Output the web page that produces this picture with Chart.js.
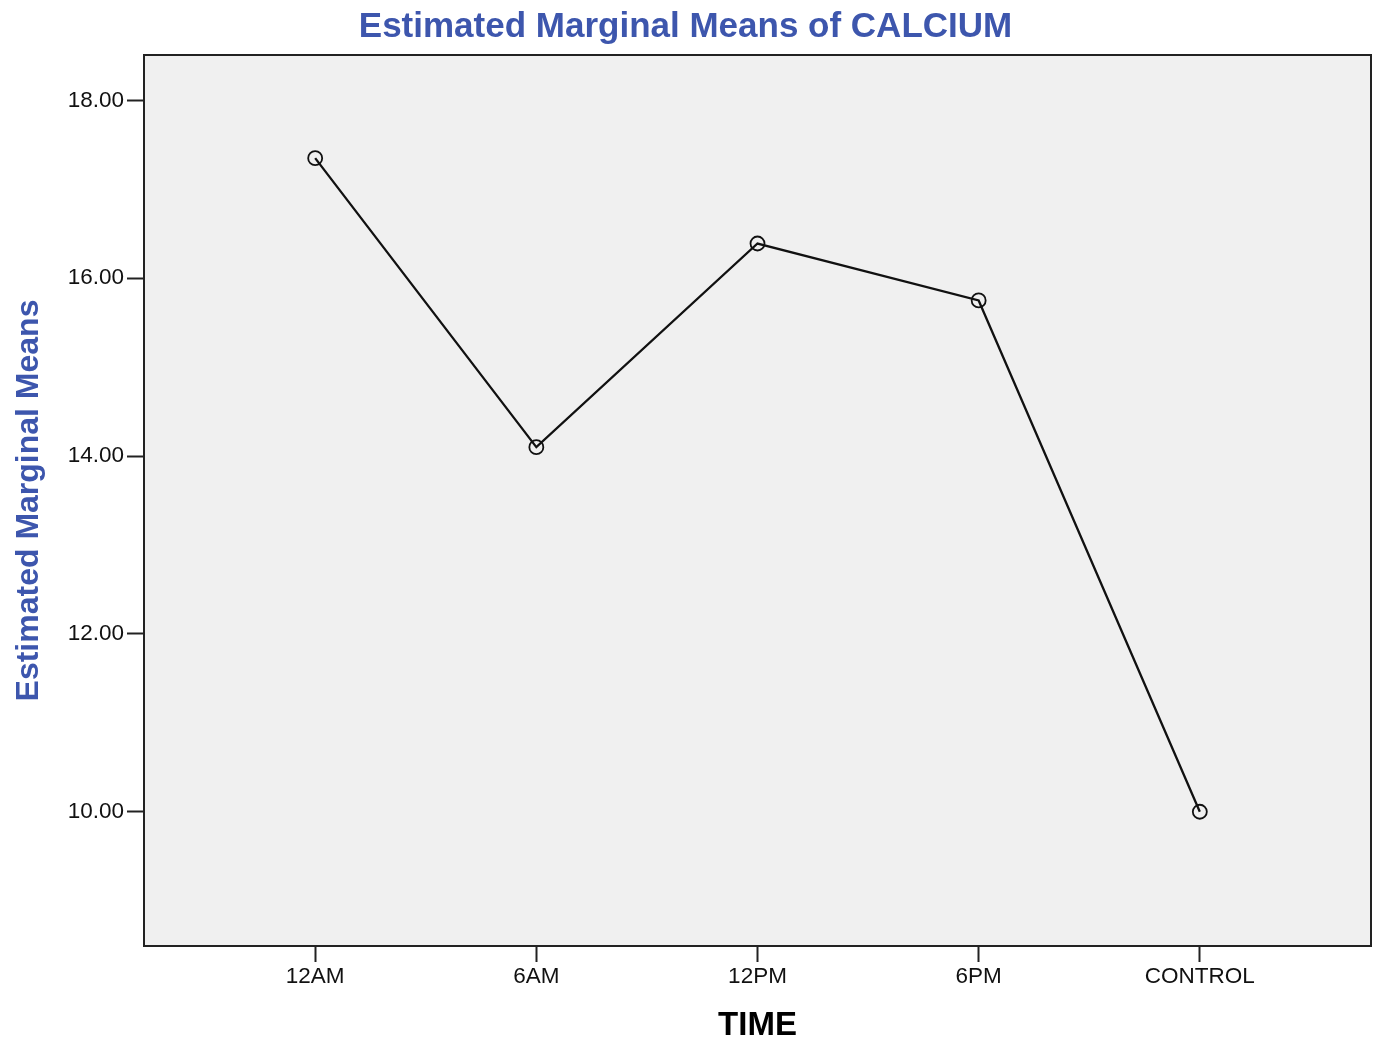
<!DOCTYPE html>
<html>
<head>
<meta charset="utf-8">
<script src="https://cdn.jsdelivr.net/npm/chart.js@4.4.0/dist/chart.umd.min.js"></script>
<style>
  html, body { margin: 0; padding: 0; background: #fff; }
  #wrap { width: 1380px; height: 1049px; }
</style>
</head>
<body>
<div id="wrap"><canvas id="chart" width="1380" height="1049"></canvas></div>
<script>
// data
const timeLabels = ['12AM', '6AM', '12PM', '6PM', 'CONTROL'];
const meanValues = [17.35, 14.10, 16.39, 15.75, 10.00];
const yTicks = [10, 12, 14, 16, 18];

const titleBlue = '#3d56ad';
const fontFam = '"Liberation Sans", Arial, sans-serif';

// grey plot background + frame on all four sides
const frame = {
    id: 'frame',
    beforeDraw(chart) {
        const { ctx, chartArea: a } = chart;
        ctx.save();
        ctx.fillStyle = '#f0f0f0';
        ctx.fillRect(a.left, a.top, a.right - a.left, a.bottom - a.top);
        ctx.restore();
    },
    afterDraw(chart) {
        const { ctx, chartArea: a } = chart;
        ctx.save();
        ctx.strokeStyle = '#222';
        ctx.lineWidth = 2;
        ctx.strokeRect(a.left, a.top, a.right - a.left, a.bottom - a.top);
        ctx.restore();
    }
};

const ctx = document.getElementById('chart').getContext('2d');
new Chart(ctx, {
    type: 'line',
    data: {
        datasets: [{
            label: 'CALCIUM',
            data: meanValues.map((v, i) => ({ x: i, y: v })),
            borderColor: '#111',
            borderWidth: 2.3,
            pointRadius: 7,
            pointBorderWidth: 1.8,
            pointBorderColor: '#111',
            pointBackgroundColor: 'rgba(0,0,0,0)',
            tension: 0
        }]
    },
    options: {
        responsive: false,
        animation: false,
        layout: { padding: { left: 0, right: 9, top: 0, bottom: 0 } },
        plugins: {
            legend: { display: false },
            tooltip: { enabled: false },
            title: {
                display: true,
                text: 'Estimated Marginal Means of CALCIUM',
                color: titleBlue,
                font: { family: fontFam, size: 35, weight: 'bold' },
                padding: { top: 6, bottom: 7 }
            }
        },
        scales: {
            x: {
                type: 'linear',
                min: -0.774,
                max: 4.774,
                afterBuildTicks: s => { s.ticks = timeLabels.map((l, i) => ({ value: i })); },
                afterFit: s => { s.height = 103; },
                ticks: {
                    callback: v => timeLabels[v],
                    color: '#111',
                    font: { family: fontFam, size: 22.5 },
                    padding: 1,
                    maxRotation: 0
                },
                grid: { drawOnChartArea: false, drawTicks: true, tickLength: 16, tickColor: '#222', tickWidth: 2 },
                border: { display: false },
                title: {
                    display: true,
                    text: 'TIME',
                    color: '#000',
                    font: { family: fontFam, size: 33, weight: 'bold' },
                    padding: { top: 0, bottom: 3 }
                }
            },
            y: {
                min: 8.49,
                max: 18.51,
                afterBuildTicks: s => { s.ticks = yTicks.map(v => ({ value: v })); },
                afterFit: s => { s.width = 144; },
                ticks: {
                    callback: v => v.toFixed(2),
                    color: '#111',
                    font: { family: fontFam, size: 22.5 },
                    padding: 3
                },
                grid: { drawOnChartArea: false, drawTicks: true, tickLength: 17, tickColor: '#222', tickWidth: 2 },
                border: { display: false },
                title: {
                    display: true,
                    text: 'Estimated Marginal Means',
                    color: titleBlue,
                    font: { family: fontFam, size: 32, weight: 'bold' },
                    padding: { top: 10, bottom: 0 }
                }
            }
        }
    },
    plugins: [frame]
});
</script>
</body>
</html>
